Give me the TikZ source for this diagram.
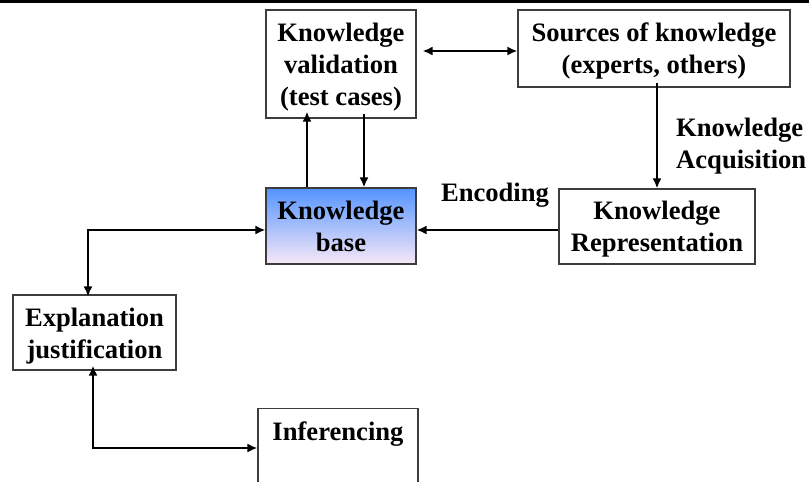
\documentclass[tikz,border=0pt]{standalone}
\usepackage{fontspec}
\setmainfont{Liberation Serif}
\usetikzlibrary{arrows.meta}
\definecolor{kbtop}{RGB}{84,148,255}
\definecolor{kbbot}{RGB}{248,232,248}
\definecolor{boxline}{RGB}{60,60,60}
\tikzset{
  box/.style={draw=boxline, line width=1.1pt, fill=white, inner sep=0pt},
  txt/.style={align=center, inner sep=0pt, font=\fontsize{26.6pt}{32pt}\selectfont\bfseries},
  lbl/.style={align=left, inner sep=0pt, font=\fontsize{26.6pt}{32pt}\selectfont\bfseries},
  arr/.style={line width=2.8pt, -{Latex[length=10pt,width=9pt]}},
  darr/.style={line width=2.8pt, {Latex[length=10pt,width=9pt]}-{Latex[length=10pt,width=9pt]}}
}
\begin{document}
\begin{tikzpicture}[x=1pt,y=-1pt]
\useasboundingbox (0,0) rectangle (809,482);
\clip (0,0) rectangle (809,482);
\fill[black] (0,0) rectangle (809,3);

\node[box, minimum width=150pt, minimum height=108pt,
  label={[txt, yshift=-3pt]center:Knowledge\\validation\\(test cases)}] (kv) at (341,64) {};
\node[box, minimum width=272pt, minimum height=77pt,
  label={[txt, yshift=-2.5pt]center:Sources of knowledge\\(experts, others)}] (src) at (654,48.5) {};
\node[box, top color=kbtop, bottom color=kbbot, minimum width=150pt, minimum height=76pt,
  label={[txt, yshift=0pt]center:Knowledge\\base}] (kb) at (341,226) {};
\node[box, minimum width=196pt, minimum height=75pt,
  label={[txt, yshift=-3pt]center:Knowledge\\Representation}] (kr) at (657,226.5) {};
\node[box, minimum width=163pt, minimum height=75pt,
  label={[txt, yshift=-4pt]center:Explanation\\justification}] (exp) at (94.5,332.5) {};
\node[box, txt, anchor=north, minimum width=160pt, text height=26pt, text depth=70pt, inner ysep=6pt] (inf) at (338,408) {Inferencing};

\node[lbl, anchor=center] (enc) at (495,195) {Encoding};
\node[lbl, anchor=west] (acq) at (676,146) {Knowledge\\Acquisition};

% arrows
\draw[darr] ([xshift=6pt]kv.east |- 0,51) -- (src.west |- 0,51);
\draw[arr] (kb.north -| 307,0) -- ([yshift=7pt]kv.south -| 307,0);
\draw[arr] ([yshift=5pt]kv.south -| 364,0) -- (kb.north -| 364,0);
\draw[arr] ([yshift=5pt]src.south -| kr.north) -- (kr.north);
\draw[arr] (kr.west |- 0,230) -- (kb.east |- 0,230);
\coordinate (c1) at (88,230);
\draw[darr] (kb.west |- c1) -- (c1) -- ([yshift=-2pt]exp.north -| c1);
\coordinate (c2) at (93,448);
\draw[darr] ([yshift=5pt]exp.south -| c2) -- (c2) -- (inf.west |- c2);
\end{tikzpicture}
\end{document}
